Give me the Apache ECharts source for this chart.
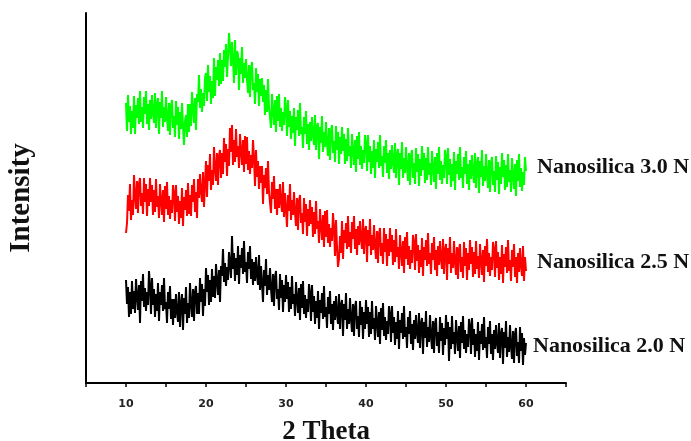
<!DOCTYPE html>
<html>
<head>
<meta charset="utf-8">
<script src="https://cdn.jsdelivr.net/npm/echarts@6/dist/echarts.min.js"></script>
<style>
  html, body { margin: 0; padding: 0; background: #fff; }
  #main { width: 691px; height: 441px; }
</style>
</head>
<body>
<div id="main"></div>
<script>
// 2 theta sampling: 10 .. 60 deg, step 0.125 (one row = one degree)
var thetaStart = 10;
var thetaStep = 0.125;

// intensity (a.u.)
var silica30 = [
  280,252,288,261,277,249,272,255, 287,249,278,265,285,259,292,261,
  276,255,286,269,292,259,279,253, 283,264,288,270,260,290,255,279,
  285,249,281,265,292,256,276,261, 286,265,252,280,248,277,283,255,
  267,246,282,258,276,244,271,254, 280,256,238,262,268,246,279,251,
  279,257,291,274,260,285,253,289, 281,308,275,294,271,290,277,305,
  310,282,318,291,307,279,302,285, 325,287,316,303,323,297,330,299,
  323,302,333,316,339,306,326,350, 336,317,341,323,300,343,308,332,
  329,293,325,309,336,300,320,305, 324,303,290,318,286,315,321,293,
  300,279,315,291,309,277,304,287, 305,281,298,268,293,271,304,276,
  277,255,289,272,258,283,251,287, 262,289,256,275,252,271,258,286,
  275,247,283,256,272,244,267,250, 275,237,266,253,273,247,280,249,
  256,235,266,249,272,239,259,233, 261,242,266,248,238,268,233,257,
  260,224,256,240,267,231,251,236, 261,240,227,255,223,252,258,230,
  242,221,257,233,251,219,246,229, 256,232,249,219,244,222,255,227,
  237,215,249,232,218,243,211,247, 224,251,218,237,214,233,220,248,
  240,212,248,221,237,209,232,215, 243,205,234,221,241,215,248,217,
  227,206,237,220,243,210,230,204, 233,214,238,220,210,240,205,229,
  234,198,230,214,241,205,225,210, 236,215,202,230,198,227,233,205,
  220,199,235,211,229,197,224,207, 237,213,230,200,225,203,236,208,
  220,198,232,215,201,226,194,230, 209,236,203,222,199,218,205,233,
  227,199,235,208,224,196,219,202, 231,193,222,209,229,203,236,205,
  216,195,226,209,232,199,219,193, 223,204,228,210,200,230,195,219,
  226,190,222,206,233,197,217,202, 229,208,195,223,191,220,226,198,
  212,191,227,203,221,189,216,199, 230,206,223,193,218,196,229,201,
  213,191,225,208,194,219,187,223, 202,229,196,215,192,211,198,226,
  212
];

var silica25 = [
  150,160,188,172,199,163,183,168, 208,187,174,202,170,199,205,177,
  190,169,205,181,199,167,194,177, 205,181,198,168,193,171,204,176,
  187,165,199,182,168,193,161,197, 174,201,168,187,164,183,170,198,
  190,162,198,171,187,159,182,165, 195,157,186,173,193,167,200,169,
  188,167,198,181,204,171,191,165, 204,185,209,191,181,211,176,200,
  222,186,218,202,229,193,213,198, 236,215,202,230,198,227,233,205,
  230,209,245,221,239,207,234,217, 255,231,258,218,243,221,254,226,
  237,215,249,232,218,243,211,247, 219,246,213,232,209,228,215,243,
  225,197,233,206,222,194,217,200, 217,179,208,195,215,189,222,191,
  191,170,201,184,207,174,194,168, 194,175,199,181,171,201,166,190,
  192,156,188,172,199,163,183,168, 191,170,157,185,153,182,188,160,
  170,149,185,161,179,147,174,157, 183,159,176,146,171,149,182,154,
  162,140,174,157,143,168,136,172, 146,173,140,159,136,155,142,170,
  155,127,163,136,116,124,147,130, 162,124,153,140,160,134,167,136,
  151,130,161,144,167,134,154,128, 157,138,162,144,134,164,129,153,
  157,121,153,137,164,128,148,133, 158,137,124,152,120,149,155,127,
  140,119,155,131,149,117,144,127, 155,131,148,118,143,121,154,126,
  136,114,148,131,117,142,110,146, 124,151,118,137,114,133,120,148,
  141,113,149,122,138,110,133,116, 145,107,136,123,143,117,150,119,
  130,109,140,123,146,113,133,107, 137,118,142,124,114,144,109,133,
  139,103,135,119,146,110,130,115, 142,121,108,136,104,133,139,111,
  126,105,141,117,135,103,130,113, 143,119,136,106,131,109,142,114,
  127,105,139,122,108,133,101,137, 117,144,111,130,107,126,113,141,
  134,106,142,115,131,103,126,109, 138,100,129,116,136,110,143,112,
  123,102,133,116,139,106,126,100, 130,111,135,117,107,137,102,126,
  112
];

var silica20 = [
  103,79,96,66,91,69,102,74, 92,70,104,87,73,98,60,102,
  82,109,76,95,72,91,78,112, 97,69,105,78,94,66,89,72,
  100,62,91,78,98,72,105,74, 81,60,91,74,97,64,84,58,
  84,65,89,71,61,91,56,80, 89,53,85,69,96,60,80,65,
  100,79,66,94,62,91,97,69, 90,69,105,81,99,67,94,77,
  115,91,108,78,103,81,114,86, 107,85,119,102,88,113,81,117,
  107,134,101,120,97,116,103,131, 133,105,147,114,130,102,125,108,
  137,99,128,115,135,109,142,111, 121,100,131,114,137,104,124,98,
  121,102,126,108,98,128,93,117, 117,81,113,97,124,88,108,93,
  115,94,81,109,77,106,112,84, 94,73,109,85,103,71,98,81,
  108,84,101,71,96,74,107,79, 89,67,101,84,70,95,63,99,
  75,102,69,88,65,84,71,99, 90,62,98,71,87,59,82,65,
  92,54,83,70,90,64,97,66, 76,55,86,69,92,59,79,53,
  82,63,87,69,59,89,54,78, 83,47,79,63,90,54,74,59,
  85,64,51,79,47,76,82,54, 67,46,82,58,76,44,71,54,
  83,59,76,46,71,49,82,54, 65,43,77,60,46,71,39,75,
  53,80,47,66,43,62,49,77, 69,41,77,50,66,38,61,44,
  72,34,63,50,70,44,77,46, 56,35,66,49,72,39,59,33,
  63,44,68,50,40,70,35,59, 65,29,61,45,72,36,56,41,
  68,47,34,62,30,59,65,37, 51,30,66,42,60,28,55,38,
  68,44,61,22,56,34,67,39, 51,29,63,46,32,57,25,61,
  40,67,34,53,30,49,36,64, 57,29,65,38,54,26,49,32,
  61,23,52,39,59,33,66,35, 46,25,56,39,62,29,49,23,
  53,34,58,40,30,60,25,49, 55,19,51,35,62,26,46,31,
  58,37,24,52,20,49,55,27, 41,20,56,32,50,18,45,28,
  40
];

var seriesNames = ['Nanosilica 3.0 N', 'Nanosilica 2.5 N', 'Nanosilica 2.0 N'];
var seriesColors = ['#00ff00', '#ff0000', '#000000'];
var seriesValues = [silica30, silica25, silica20];

function toPairs(values) {
  return values.map(function (v, i) {
    return [thetaStart + i * thetaStep, v];
  });
}

var chart = echarts.init(document.getElementById('main'));

var labelFont = 'bold 22px "Liberation Serif"';

var option = {
  backgroundColor: '#ffffff',
  animation: false,
  grid: {
    left: 86, top: 13, width: 480, height: 370,
    containLabel: false,
    outerBoundsMode: 'none'
  },
  xAxis: {
    type: 'value',
    min: 5,
    max: 65,
    interval: 5,
    name: '2 Theta',
    nameLocation: 'middle',
    nameGap: 36,
    nameTextStyle: {
      fontFamily: 'Liberation Serif',
      fontWeight: 'bold',
      fontSize: 27,
      color: '#111'
    },
    axisLine: { lineStyle: { color: '#000', width: 2 } },
    axisTick: { length: 4, lineStyle: { color: '#000', width: 1.5 } },
    axisLabel: {
      margin: 16,
      fontFamily: 'DejaVu Sans',
      fontWeight: 'bold',
      fontSize: 11,
      color: '#222',
      formatter: function (v) {
        return (v % 10 === 0 && v >= 10 && v <= 60) ? String(v) : '';
      }
    },
    splitLine: { show: false }
  },
  yAxis: {
    type: 'value',
    min: 0,
    max: 370,
    name: 'Intensity',
    nameLocation: 'middle',
    nameGap: 50,
    nameRotate: 90,
    nameTextStyle: {
      fontFamily: 'Liberation Serif',
      fontWeight: 'bold',
      fontSize: 29,
      color: '#111'
    },
    axisLine: { show: true, lineStyle: { color: '#000', width: 2 } },
    axisTick: { show: false },
    axisLabel: { show: false },
    splitLine: { show: false }
  },
  series: seriesValues.map(function (vals, k) {
    return {
      name: seriesNames[k],
      type: 'line',
      data: toPairs(vals),
      symbol: 'none',
      sampling: null,
      lineStyle: { color: seriesColors[k], width: 2 },
      z: 3 - k
    };
  }),
  graphic: [
    { type: 'text', left: 537, top: 156, style: { text: seriesNames[0], font: labelFont, fill: '#111' } },
    { type: 'text', left: 537, top: 251, style: { text: seriesNames[1], font: labelFont, fill: '#111' } },
    { type: 'text', left: 533, top: 335, style: { text: seriesNames[2], font: labelFont, fill: '#111' } }
  ]
};

chart.setOption(option);
</script>
</body>
</html>
